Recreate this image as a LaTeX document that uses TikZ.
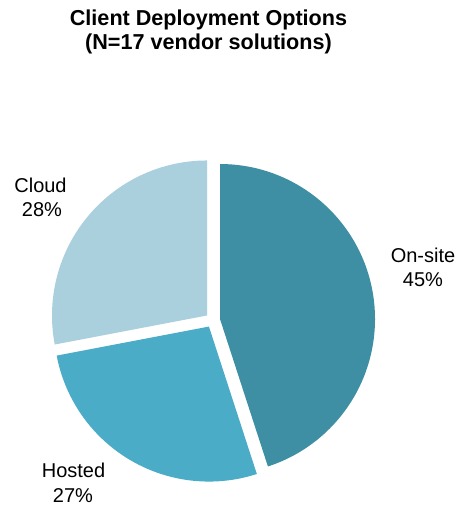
\documentclass[tikz,border=0pt]{standalone}
\usepackage{fontspec}
\setmainfont{Liberation Sans}
\usetikzlibrary{calc}
\definecolor{onsite}{RGB}{62,143,163}
\definecolor{hosted}{RGB}{74,172,198}
\definecolor{cloudc}{RGB}{170,207,221}
\begin{document}
\begin{tikzpicture}[x=1pt,y=1pt,
  titletext/.style={anchor=base,inner sep=0pt,font=\fontsize{21.6}{24}\selectfont\bfseries},
  labeltext/.style={anchor=base,inner sep=0pt,font=\fontsize{20}{24}\selectfont}]
  % page frame
  \fill[white] (0,0) rectangle (461,511);
  \useasboundingbox (0,0) rectangle (461,511);
  % pie centre, radius and explode distance
  \coordinate (C) at (212.7,190.8);
  \def\rad{155}
  \def\off{7.4}
  % On-site 45%
  \fill[onsite] ($(C)+(9:\off)$) -- ++(90:\rad) arc[start angle=90,end angle=-72,radius=\rad] -- cycle;
  % Hosted 27%
  \fill[hosted] ($(C)+(-120.6:\off)$) -- ++(-72:\rad) arc[start angle=-72,end angle=-169.2,radius=\rad] -- cycle;
  % Cloud 28%
  \fill[cloudc] ($(C)+(140.4:\off)$) -- ++(-169.2:\rad) arc[start angle=-169.2,end angle=-270,radius=\rad] -- cycle;
  % title
  \node[titletext] (title1) at (208.5,485.5) {Client Deployment Options};
  \node[titletext] (title2) at (208.5,461.5) {(N=17 vendor solutions)};
  % slice labels
  \node[labeltext] (lbl-on1) at (423,248.3) {On-site};
  \node[labeltext] (lbl-on2) at (423,224.5) {45\%};
  \node[labeltext] (lbl-ho1) at (73.5,33) {Hosted};
  \node[labeltext] (lbl-ho2) at (73,9) {27\%};
  \node[labeltext] (lbl-cl1) at (40.5,318.3) {Cloud};
  \node[labeltext] (lbl-cl2) at (42,294.3) {28\%};
\end{tikzpicture}
\end{document}
